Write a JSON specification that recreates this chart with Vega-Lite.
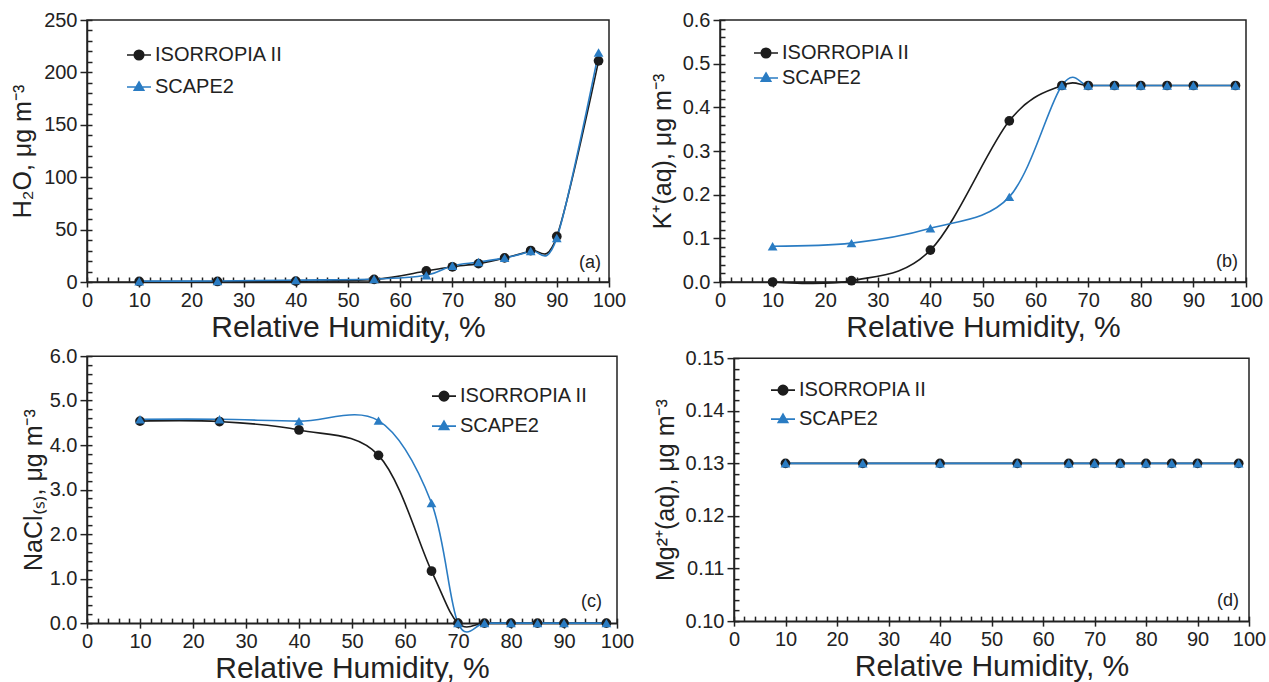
{
  "$schema": "https://vega.github.io/schema/vega-lite/v6.json",
  "background": "white",
  "padding": {"left": 9, "top": 9, "right": 0, "bottom": 0},
  "data": {"values": [
    {"panel":"a","model":"ISORROPIA II","rh":10,"value":0.5},
    {"panel":"a","model":"ISORROPIA II","rh":25,"value":0.5},
    {"panel":"a","model":"ISORROPIA II","rh":40,"value":0.8},
    {"panel":"a","model":"ISORROPIA II","rh":55,"value":2.5},
    {"panel":"a","model":"ISORROPIA II","rh":65,"value":10.5},
    {"panel":"a","model":"ISORROPIA II","rh":70,"value":14.5},
    {"panel":"a","model":"ISORROPIA II","rh":75,"value":17.5},
    {"panel":"a","model":"ISORROPIA II","rh":80,"value":23},
    {"panel":"a","model":"ISORROPIA II","rh":85,"value":30},
    {"panel":"a","model":"ISORROPIA II","rh":90,"value":43.5},
    {"panel":"a","model":"ISORROPIA II","rh":98,"value":211},
    {"panel":"a","model":"SCAPE2","rh":10,"value":0.8},
    {"panel":"a","model":"SCAPE2","rh":25,"value":1.0},
    {"panel":"a","model":"SCAPE2","rh":40,"value":1.8},
    {"panel":"a","model":"SCAPE2","rh":55,"value":2.8},
    {"panel":"a","model":"SCAPE2","rh":65,"value":6.5},
    {"panel":"a","model":"SCAPE2","rh":70,"value":15.5},
    {"panel":"a","model":"SCAPE2","rh":75,"value":19},
    {"panel":"a","model":"SCAPE2","rh":80,"value":23},
    {"panel":"a","model":"SCAPE2","rh":85,"value":29.5},
    {"panel":"a","model":"SCAPE2","rh":90,"value":42},
    {"panel":"a","model":"SCAPE2","rh":98,"value":219},
    {"panel":"b","model":"ISORROPIA II","rh":10,"value":0.0},
    {"panel":"b","model":"ISORROPIA II","rh":25,"value":0.003},
    {"panel":"b","model":"ISORROPIA II","rh":40,"value":0.073},
    {"panel":"b","model":"ISORROPIA II","rh":55,"value":0.369},
    {"panel":"b","model":"ISORROPIA II","rh":65,"value":0.45},
    {"panel":"b","model":"ISORROPIA II","rh":70,"value":0.45},
    {"panel":"b","model":"ISORROPIA II","rh":75,"value":0.45},
    {"panel":"b","model":"ISORROPIA II","rh":80,"value":0.45},
    {"panel":"b","model":"ISORROPIA II","rh":85,"value":0.45},
    {"panel":"b","model":"ISORROPIA II","rh":90,"value":0.45},
    {"panel":"b","model":"ISORROPIA II","rh":98,"value":0.45},
    {"panel":"b","model":"SCAPE2","rh":10,"value":0.082},
    {"panel":"b","model":"SCAPE2","rh":25,"value":0.089},
    {"panel":"b","model":"SCAPE2","rh":40,"value":0.123},
    {"panel":"b","model":"SCAPE2","rh":55,"value":0.195},
    {"panel":"b","model":"SCAPE2","rh":65,"value":0.45},
    {"panel":"b","model":"SCAPE2","rh":70,"value":0.45},
    {"panel":"b","model":"SCAPE2","rh":75,"value":0.45},
    {"panel":"b","model":"SCAPE2","rh":80,"value":0.45},
    {"panel":"b","model":"SCAPE2","rh":85,"value":0.45},
    {"panel":"b","model":"SCAPE2","rh":90,"value":0.45},
    {"panel":"b","model":"SCAPE2","rh":98,"value":0.45},
    {"panel":"c","model":"ISORROPIA II","rh":10,"value":4.54},
    {"panel":"c","model":"ISORROPIA II","rh":25,"value":4.53},
    {"panel":"c","model":"ISORROPIA II","rh":40,"value":4.34},
    {"panel":"c","model":"ISORROPIA II","rh":55,"value":3.77},
    {"panel":"c","model":"ISORROPIA II","rh":65,"value":1.17},
    {"panel":"c","model":"ISORROPIA II","rh":70,"value":0},
    {"panel":"c","model":"ISORROPIA II","rh":75,"value":0},
    {"panel":"c","model":"ISORROPIA II","rh":80,"value":0},
    {"panel":"c","model":"ISORROPIA II","rh":85,"value":0},
    {"panel":"c","model":"ISORROPIA II","rh":90,"value":0},
    {"panel":"c","model":"ISORROPIA II","rh":98,"value":0},
    {"panel":"c","model":"SCAPE2","rh":10,"value":4.58},
    {"panel":"c","model":"SCAPE2","rh":25,"value":4.58},
    {"panel":"c","model":"SCAPE2","rh":40,"value":4.54},
    {"panel":"c","model":"SCAPE2","rh":55,"value":4.55},
    {"panel":"c","model":"SCAPE2","rh":65,"value":2.70},
    {"panel":"c","model":"SCAPE2","rh":70,"value":0},
    {"panel":"c","model":"SCAPE2","rh":75,"value":0},
    {"panel":"c","model":"SCAPE2","rh":80,"value":0},
    {"panel":"c","model":"SCAPE2","rh":85,"value":0},
    {"panel":"c","model":"SCAPE2","rh":90,"value":0},
    {"panel":"c","model":"SCAPE2","rh":98,"value":0},
    {"panel":"d","model":"ISORROPIA II","rh":10,"value":0.13},
    {"panel":"d","model":"ISORROPIA II","rh":25,"value":0.13},
    {"panel":"d","model":"ISORROPIA II","rh":40,"value":0.13},
    {"panel":"d","model":"ISORROPIA II","rh":55,"value":0.13},
    {"panel":"d","model":"ISORROPIA II","rh":65,"value":0.13},
    {"panel":"d","model":"ISORROPIA II","rh":70,"value":0.13},
    {"panel":"d","model":"ISORROPIA II","rh":75,"value":0.13},
    {"panel":"d","model":"ISORROPIA II","rh":80,"value":0.13},
    {"panel":"d","model":"ISORROPIA II","rh":85,"value":0.13},
    {"panel":"d","model":"ISORROPIA II","rh":90,"value":0.13},
    {"panel":"d","model":"ISORROPIA II","rh":98,"value":0.13},
    {"panel":"d","model":"SCAPE2","rh":10,"value":0.13},
    {"panel":"d","model":"SCAPE2","rh":25,"value":0.13},
    {"panel":"d","model":"SCAPE2","rh":40,"value":0.13},
    {"panel":"d","model":"SCAPE2","rh":55,"value":0.13},
    {"panel":"d","model":"SCAPE2","rh":65,"value":0.13},
    {"panel":"d","model":"SCAPE2","rh":70,"value":0.13},
    {"panel":"d","model":"SCAPE2","rh":75,"value":0.13},
    {"panel":"d","model":"SCAPE2","rh":80,"value":0.13},
    {"panel":"d","model":"SCAPE2","rh":85,"value":0.13},
    {"panel":"d","model":"SCAPE2","rh":90,"value":0.13},
    {"panel":"d","model":"SCAPE2","rh":98,"value":0.13}
  ]},
  "spacing": 2,
  "resolve": {"scale": {"color": "independent", "shape": "independent"}, "legend": {"color": "independent"}},
  "vconcat": [
    {"spacing": 22,
     "resolve": {"scale": {"color": "independent", "shape": "independent"}, "legend": {"color": "independent"}},
     "hconcat": [
      {"width": 522, "height": 262,
       "title": {"text": "(a)", "orient": "top", "anchor": "end", "frame": "group", "offset": -262, "dx": -8},
       "transform": [{"filter": "datum.panel === 'a'"}],
       "resolve": {"axis": {"x": "independent", "y": "independent"}},
       "layer": [
        {"mark": {"type": "line", "interpolate": "cardinal", "strokeWidth": 1.6},
         "encoding": {
          "x": {"field": "rh", "type": "quantitative", "scale": {"domain": [0, 100], "nice": false}, "axis": {"orient": "bottom", "values": [0,10,20,30,40,50,60,70,80,90,100], "title": "Relative Humidity, %"}},
          "y": {"field": "value", "type": "quantitative", "scale": {"domain": [0, 250], "nice": false}, "axis": {"orient": "left", "values": [0,50,100,150,200,250], "title": "H₂O, μg m⁻³", "titlePadding": 8}},
          "color": {"field": "model", "type": "nominal", "scale": {"domain": ["ISORROPIA II","SCAPE2"], "range": ["#1c1c1c","#2a7cc3"]},
            "legend": {"orient": "none", "legendX": 42, "legendY": 25, "rowPadding": 12,
              "encode": {"symbols": {"update": {
                "shape": {"signal": "datum.value === 'ISORROPIA II' ? 'M-2.4,0H2.4M0.95,0A0.95,0.95,0,1,1,-0.95,0A0.95,0.95,0,1,1,0.95,0Z' : 'M-2.4,0H2.4M0,-1L0.95,0.65L-0.95,0.65Z'"},
                "fill": {"signal": "datum.value === 'ISORROPIA II' ? '#1c1c1c' : '#2a7cc3'"},
                "stroke": {"signal": "datum.value === 'ISORROPIA II' ? '#1c1c1c' : '#2a7cc3'"},
                "strokeWidth": {"value": 1.6}, "opacity": {"value": 1}}}}}}}},
        {"mark": {"type": "point", "filled": true, "opacity": 1, "size": 95},
         "encoding": {
          "x": {"field": "rh", "type": "quantitative", "scale": {"domain": [0, 100], "nice": false}, "axis": {"orient": "bottom", "values": [0,2,4,6,8,10,12,14,16,18,20,22,24,26,28,30,32,34,36,38,40,42,44,46,48,50,52,54,56,58,60,62,64,66,68,70,72,74,76,78,80,82,84,86,88,90,92,94,96,98,100], "labels": false, "domain": false, "tickSize": -5, "title": null}},
          "y": {"field": "value", "type": "quantitative", "scale": {"domain": [0, 250], "nice": false}, "axis": {"orient": "left", "values": [0,10,20,30,40,50,60,70,80,90,100,110,120,130,140,150,160,170,180,190,200,210,220,230,240,250], "labels": false, "domain": false, "tickSize": -5, "title": null}},
          "color": {"field": "model", "type": "nominal"},
          "shape": {"field": "model", "type": "nominal", "scale": {"range": ["circle","triangle-up"]}, "legend": null}}}
       ]},
      {"width": 526, "height": 262,
       "title": {"text": "(b)", "orient": "top", "anchor": "end", "frame": "group", "offset": -261, "dx": -8},
       "transform": [{"filter": "datum.panel === 'b'"}],
       "resolve": {"axis": {"x": "independent", "y": "independent"}},
       "layer": [
        {"mark": {"type": "line", "interpolate": "cardinal", "strokeWidth": 1.6},
         "encoding": {
          "x": {"field": "rh", "type": "quantitative", "scale": {"domain": [0, 100], "nice": false}, "axis": {"orient": "bottom", "values": [0,10,20,30,40,50,60,70,80,90,100], "title": "Relative Humidity, %"}},
          "y": {"field": "value", "type": "quantitative", "scale": {"domain": [0, 0.6], "nice": false}, "axis": {"orient": "left", "values": [0,0.1,0.2,0.3,0.4,0.5,0.6], "format": ".1f", "title": "K⁺(aq), μg m⁻³"}},
          "color": {"field": "model", "type": "nominal", "scale": {"domain": ["ISORROPIA II","SCAPE2"], "range": ["#1c1c1c","#2a7cc3"]},
            "legend": {"orient": "none", "legendX": 36, "legendY": 23, "rowPadding": 5,
              "encode": {"symbols": {"update": {
                "shape": {"signal": "datum.value === 'ISORROPIA II' ? 'M-2.4,0H2.4M0.95,0A0.95,0.95,0,1,1,-0.95,0A0.95,0.95,0,1,1,0.95,0Z' : 'M-2.4,0H2.4M0,-1L0.95,0.65L-0.95,0.65Z'"},
                "fill": {"signal": "datum.value === 'ISORROPIA II' ? '#1c1c1c' : '#2a7cc3'"},
                "stroke": {"signal": "datum.value === 'ISORROPIA II' ? '#1c1c1c' : '#2a7cc3'"},
                "strokeWidth": {"value": 1.6}, "opacity": {"value": 1}}}}}}}},
        {"mark": {"type": "point", "filled": true, "opacity": 1, "size": 95},
         "encoding": {
          "x": {"field": "rh", "type": "quantitative", "scale": {"domain": [0, 100], "nice": false}, "axis": {"orient": "bottom", "values": [0,2,4,6,8,10,12,14,16,18,20,22,24,26,28,30,32,34,36,38,40,42,44,46,48,50,52,54,56,58,60,62,64,66,68,70,72,74,76,78,80,82,84,86,88,90,92,94,96,98,100], "labels": false, "domain": false, "tickSize": -5, "title": null}},
          "y": {"field": "value", "type": "quantitative", "scale": {"domain": [0, 0.6], "nice": false}, "axis": {"orient": "left", "values": [0,0.02,0.04,0.06,0.08,0.1,0.12,0.14,0.16,0.18,0.2,0.22,0.24,0.26,0.28,0.3,0.32,0.34,0.36,0.38,0.4,0.42,0.44,0.46,0.48,0.5,0.52,0.54,0.56,0.58,0.6], "labels": false, "domain": false, "tickSize": -5, "title": null}},
          "color": {"field": "model", "type": "nominal"},
          "shape": {"field": "model", "type": "nominal", "scale": {"range": ["circle","triangle-up"]}, "legend": null}}}
       ]}
    ]},
    {"spacing": 17, "center": true,
     "resolve": {"scale": {"color": "independent", "shape": "independent"}, "legend": {"color": "independent"}},
     "hconcat": [
      {"width": 530, "height": 267,
       "title": {"text": "(c)", "orient": "top", "anchor": "end", "frame": "group", "offset": -265, "dx": -15},
       "transform": [{"filter": "datum.panel === 'c'"}],
       "resolve": {"axis": {"x": "independent", "y": "independent"}},
       "layer": [
        {"mark": {"type": "line", "interpolate": "cardinal", "strokeWidth": 1.6},
         "encoding": {
          "x": {"field": "rh", "type": "quantitative", "scale": {"domain": [0, 100], "nice": false}, "axis": {"orient": "bottom", "values": [0,10,20,30,40,50,60,70,80,90,100], "title": "Relative Humidity, %"}},
          "y": {"field": "value", "type": "quantitative", "scale": {"domain": [0, 6], "nice": false}, "axis": {"orient": "left", "values": [0,1,2,3,4,5,6], "format": ".1f", "title": "NaCl₍ₛ₎, μg m⁻³", "titlePadding": 3}},
          "color": {"field": "model", "type": "nominal", "scale": {"domain": ["ISORROPIA II","SCAPE2"], "range": ["#1c1c1c","#2a7cc3"]},
            "legend": {"orient": "none", "legendX": 347, "legendY": 30, "rowPadding": 10,
              "encode": {"symbols": {"update": {
                "shape": {"signal": "datum.value === 'ISORROPIA II' ? 'M-2.4,0H2.4M0.95,0A0.95,0.95,0,1,1,-0.95,0A0.95,0.95,0,1,1,0.95,0Z' : 'M-2.4,0H2.4M0,-1L0.95,0.65L-0.95,0.65Z'"},
                "fill": {"signal": "datum.value === 'ISORROPIA II' ? '#1c1c1c' : '#2a7cc3'"},
                "stroke": {"signal": "datum.value === 'ISORROPIA II' ? '#1c1c1c' : '#2a7cc3'"},
                "strokeWidth": {"value": 1.6}, "opacity": {"value": 1}}}}}}}},
        {"mark": {"type": "point", "filled": true, "opacity": 1, "size": 95},
         "encoding": {
          "x": {"field": "rh", "type": "quantitative", "scale": {"domain": [0, 100], "nice": false}, "axis": {"orient": "bottom", "values": [0,2,4,6,8,10,12,14,16,18,20,22,24,26,28,30,32,34,36,38,40,42,44,46,48,50,52,54,56,58,60,62,64,66,68,70,72,74,76,78,80,82,84,86,88,90,92,94,96,98,100], "labels": false, "domain": false, "tickSize": -5, "title": null}},
          "y": {"field": "value", "type": "quantitative", "scale": {"domain": [0, 6], "nice": false}, "axis": {"orient": "left", "values": [0,0.2,0.4,0.6,0.8,1,1.2,1.4,1.6,1.8,2,2.2,2.4,2.6,2.8,3,3.2,3.4,3.6,3.8,4,4.2,4.4,4.6,4.8,5,5.2,5.4,5.6,5.8,6], "labels": false, "domain": false, "tickSize": -5, "title": null}},
          "color": {"field": "model", "type": "nominal"},
          "shape": {"field": "model", "type": "nominal", "scale": {"range": ["circle","triangle-up"]}, "legend": null}}}
       ]},
      {"width": 515, "height": 263,
       "title": {"text": "(d)", "orient": "top", "anchor": "end", "frame": "group", "offset": -262, "dx": -10},
       "transform": [{"filter": "datum.panel === 'd'"}],
       "resolve": {"axis": {"x": "independent", "y": "independent"}},
       "layer": [
        {"mark": {"type": "line", "interpolate": "cardinal", "strokeWidth": 1.6},
         "encoding": {
          "x": {"field": "rh", "type": "quantitative", "scale": {"domain": [0, 100], "nice": false}, "axis": {"orient": "bottom", "values": [0,10,20,30,40,50,60,70,80,90,100], "title": "Relative Humidity, %"}},
          "y": {"field": "value", "type": "quantitative", "scale": {"domain": [0.1, 0.15], "zero": false, "nice": false}, "axis": {"orient": "left", "values": [0.1,0.11,0.12,0.13,0.14,0.15], "format": ".2f", "title": "Mg²⁺(aq), μg m⁻³"}},
          "color": {"field": "model", "type": "nominal", "scale": {"domain": ["ISORROPIA II","SCAPE2"], "range": ["#1c1c1c","#2a7cc3"]},
            "legend": {"orient": "none", "legendX": 39, "legendY": 22, "rowPadding": 9,
              "encode": {"symbols": {"update": {
                "shape": {"signal": "datum.value === 'ISORROPIA II' ? 'M-2.4,0H2.4M0.95,0A0.95,0.95,0,1,1,-0.95,0A0.95,0.95,0,1,1,0.95,0Z' : 'M-2.4,0H2.4M0,-1L0.95,0.65L-0.95,0.65Z'"},
                "fill": {"signal": "datum.value === 'ISORROPIA II' ? '#1c1c1c' : '#2a7cc3'"},
                "stroke": {"signal": "datum.value === 'ISORROPIA II' ? '#1c1c1c' : '#2a7cc3'"},
                "strokeWidth": {"value": 1.6}, "opacity": {"value": 1}}}}}}}},
        {"mark": {"type": "point", "filled": true, "opacity": 1, "size": 95},
         "encoding": {
          "x": {"field": "rh", "type": "quantitative", "scale": {"domain": [0, 100], "nice": false}, "axis": {"orient": "bottom", "values": [0,2,4,6,8,10,12,14,16,18,20,22,24,26,28,30,32,34,36,38,40,42,44,46,48,50,52,54,56,58,60,62,64,66,68,70,72,74,76,78,80,82,84,86,88,90,92,94,96,98,100], "labels": false, "domain": false, "tickSize": -5, "title": null}},
          "y": {"field": "value", "type": "quantitative", "scale": {"domain": [0.1, 0.15], "zero": false, "nice": false}, "axis": {"orient": "left", "values": [0.1,0.102,0.104,0.106,0.108,0.11,0.112,0.114,0.116,0.118,0.12,0.122,0.124,0.126,0.128,0.13,0.132,0.134,0.136,0.138,0.14,0.142,0.144,0.146,0.148,0.15], "labels": false, "domain": false, "tickSize": -5, "title": null}},
          "color": {"field": "model", "type": "nominal"},
          "shape": {"field": "model", "type": "nominal", "scale": {"range": ["circle","triangle-up"]}, "legend": null}}}
       ]}
    ]}
  ],
  "config": {
    "font": "Liberation Sans",
    "view": {"stroke": "#222", "strokeWidth": 1.5},
    "title": {"font": "Liberation Sans", "fontSize": 18, "fontWeight": "normal", "color": "#222"},
    "axis": {"labelFont": "Liberation Sans", "titleFont": "Liberation Sans", "labelFontSize": 20, "titleFontWeight": "normal", "labelColor": "#222", "titleColor": "#222", "domainColor": "#222", "tickColor": "#222", "domainWidth": 1.5, "tickWidth": 1.5, "grid": false, "labelFlush": false, "labelOverlap": false},
    "axisX": {"titleFontSize": 30, "tickSize": 5, "labelPadding": 3, "titlePadding": 2},
    "axisY": {"titleFontSize": 25, "tickSize": 7, "labelPadding": 3, "titlePadding": 7},
    "legend": {"title": null, "labelFont": "Liberation Sans", "labelFontSize": 20, "labelColor": "#222", "labelOffset": 6, "symbolSize": 100, "padding": 0}
  }
}
